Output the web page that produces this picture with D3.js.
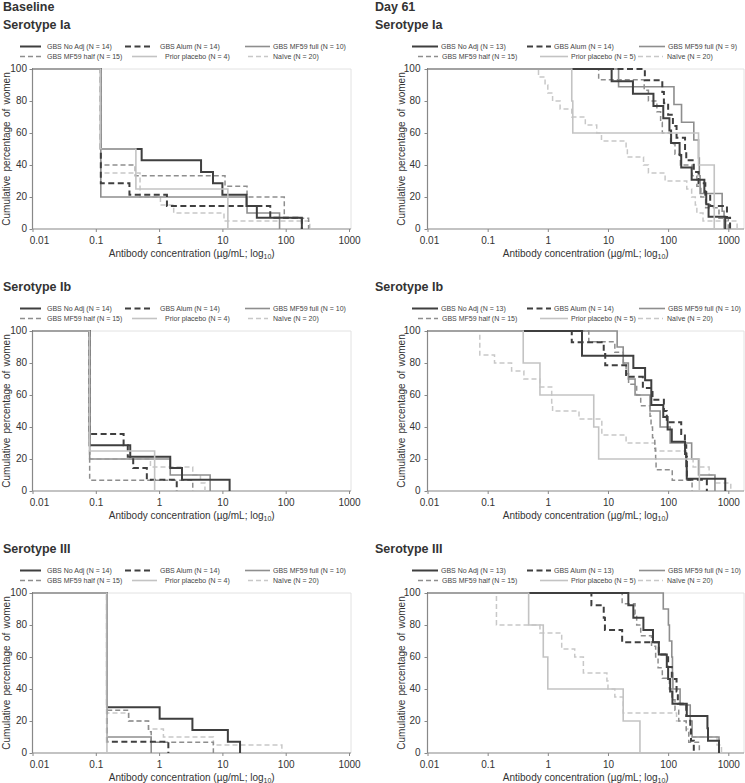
<!DOCTYPE html>
<html><head><meta charset="utf-8">
<script src="https://cdn.jsdelivr.net/npm/d3@7"></script>
<style>body{margin:0;background:#fff}svg{display:block;font-family:Arial,"Liberation Sans",sans-serif}</style>
</head><body><svg id="c" width="745" height="783"></svg>
<script>
// ---------- data ----------
const seriesNames = ["GBS No Adj", "GBS Alum", "GBS MF59 full", "GBS MF59 half", "Prior placebo", "Naïve"];
const tickValues = [0.01, 0.1, 1, 10, 100, 1000];
const tickLabels = ["0.01", "0.1", "1", "10", "100", "1000"];
const yTicks = [0, 20, 40, 60, 80, 100];
const timepoints = ["Baseline", "Day 61"];
const serotypes = ["Serotype Ia", "Serotype Ib", "Serotype III"];

const nBaseIa = [14, 14, 10, 15, 4, 20];
const nDay61Ia = [13, 14, 9, 15, 5, 20];
const nBaseIb = [14, 14, 10, 15, 4, 20];
const nDay61Ib = [13, 14, 10, 15, 5, 20];
const nBaseIII = [14, 14, 10, 15, 4, 20];
const nDay61III = [13, 13, 10, 15, 5, 20];

// concentrations (µg/mL) at which each curve steps down, and the percentage after the step
const baseIaX = [
  [0.12, 0.53, 4.6, 7.1, 10, 24, 35, 180],
  [0.12, 0.34, 1.33, 57, 180],
  [0.12, 24.5, 80],
  [0.12, 0.42, 11, 24.5, 95, 230],
  [0.12, 0.43, 12.2],
  [0.12, 0.5, 1.05, 1.7, 10.6, 240]];
const baseIaY = [
  [50, 42.9, 35.7, 28.6, 21.4, 14.3, 7.1, 0],
  [28.6, 21.4, 14.3, 7.1, 0],
  [20, 10, 0],
  [40, 33.3, 26.7, 20, 6.7, 0],
  [50, 25, 0],
  [35, 20, 15, 10, 5, 0]];

const day61IaX = [
  [11.5, 26, 57, 83, 105, 112, 155, 165, 246, 400, 430, 470, 890],
  [41, 80, 85, 100, 120, 138, 191, 200, 267, 320, 415, 500, 950, 1070],
  [15, 125, 167, 267, 320, 330, 340, 790, 850],
  [7, 40, 47, 65, 75, 80, 110, 130, 160, 250, 300, 350, 420, 700, 1000],
  [2.5, 2.6, 320, 584],
  [0.7, 0.9, 1.0, 1.2, 1.6, 2.5, 4.2, 6.5, 7.8, 20, 21, 39, 47, 89, 204, 246, 283, 300, 380, 1400]];
const day61IaY = [
  [92.3, 84.6, 76.9, 69.2, 61.5, 53.8, 46.2, 38.5, 30.8, 23.1, 15.4, 7.7, 0],
  [92.9, 85.7, 78.6, 71.4, 64.3, 57.1, 50, 42.9, 35.7, 28.6, 21.4, 14.3, 7.1, 0],
  [88.9, 77.8, 66.7, 55.6, 44.4, 33.3, 22.2, 11.1, 0],
  [93.3, 86.7, 80, 73.3, 66.7, 60, 53.3, 46.7, 40, 33.3, 26.7, 20, 13.3, 6.7, 0],
  [80, 60, 40, 0],
  [95, 90, 85, 80, 75, 70, 65, 60, 55, 50, 45, 40, 35, 30, 25, 20, 15, 10, 5, 0]];

const baseIbX = [
  [0.08, 0.35, 1.5, 2.3, 13],
  [0.08, 0.275, 0.32, 0.39, 0.64, 1.9],
  [0.08, 1.5, 6.4],
  [0.08, 3.4],
  [0.08, 0.85],
  [0.08, 0.73, 3.4, 4.5, 5.3]];
const baseIbY = [
  [28.6, 21.4, 14.3, 7.1, 0],
  [35.7, 28.6, 21.4, 14.3, 7.1, 0],
  [20, 10, 0],
  [6.7, 0],
  [25, 0],
  [20, 15, 10, 5, 0]];

const day61IbX = [
  [3.7, 26.4, 41.4, 52.5, 83, 98, 115, 191, 200, 204, 890],
  [2.5, 8.5, 9, 20, 38, 55, 85, 95, 165, 190, 200, 205, 440],
  [14.2, 17.9, 21.8, 28.2, 50, 73.6, 108, 246, 320, 600],
  [4.8, 13, 18, 20, 22, 30, 35, 50, 52, 55, 60, 62, 63, 117, 250],
  [0.39, 0.74, 5.8, 7.0, 330],
  [0.074, 0.13, 0.25, 0.4, 0.74, 1.16, 1.2, 3.3, 7.9, 20, 60, 200, 260, 480, 600, 1100]];
const day61IbY = [
  [84.6, 76.9, 69.2, 53.8, 46.2, 38.5, 30.8, 23.1, 15.4, 7.7, 0],
  [92.9, 85.7, 78.6, 71.4, 64.3, 57.1, 50, 42.9, 35.7, 28.6, 21.4, 7.1, 0],
  [90, 80, 70, 60, 50, 40, 30, 20, 10, 0],
  [93.3, 86.7, 80, 73.3, 66.7, 60, 53.3, 46.7, 40, 33.3, 26.7, 20, 13.3, 6.7, 0],
  [80, 60, 40, 20, 0],
  [85, 80, 75, 70, 65, 55, 50, 45, 35, 30, 25, 20, 15, 10, 5, 0]];

const baseIIIX = [
  [0.15, 1.02, 3.36, 12.2, 19],
  [0.15, 1.4],
  [0.15, 0.75],
  [0.15, 0.33, 0.68, 0.75, 7.2],
  [0.15],
  [0.15, 0.33, 0.68, 1.17, 7.2, 87]];
const baseIIIY = [
  [28.6, 21.4, 14.3, 7.1, 0],
  [7.1, 0],
  [10, 0],
  [26.7, 20, 13.3, 6.7, 0],
  [0],
  [25, 20, 15, 10, 5, 0]];

const day61IIIX = [
  [21.8, 26.4, 38.8, 56, 70, 95, 100, 108, 118, 204, 450, 460, 700],
  [5.3, 8.5, 8.9, 17.2, 70, 100, 115, 138, 145, 200, 233, 240, 267],
  [83, 101, 105, 115, 118, 120, 158, 233, 250, 700],
  [17.2, 28.2, 30, 35, 53, 62, 68, 80, 105, 115, 130, 150, 200, 220, 330],
  [0.48, 0.84, 1.0, 17.9, 34],
  [0.14, 0.74, 1.7, 2.8, 3.9, 9.6, 10, 13, 17.9, 138, 200, 230, 650, 770]];
const day61IIIY = [
  [92.3, 84.6, 76.9, 69.2, 61.5, 53.8, 46.2, 38.5, 30.8, 23.1, 15.4, 7.7, 0],
  [92.3, 84.6, 76.9, 69.2, 61.5, 53.8, 46.2, 38.5, 30.8, 23.1, 15.4, 7.7, 0],
  [90, 80, 70, 60, 50, 40, 30, 20, 10, 0],
  [93.3, 86.7, 80, 73.3, 66.7, 60, 53.3, 46.7, 40, 33.3, 26.7, 20, 13.3, 6.7, 0],
  [80, 60, 40, 20, 0],
  [80, 75, 65, 60, 50, 45, 40, 35, 25, 20, 15, 10, 5, 0]];

// ---------- styles / layout ----------
const styles = [
  {color: "#3f3f3f", width: 2, dash: null},
  {color: "#3f3f3f", width: 2, dash: "6,3.5"},
  {color: "#8e8e8e", width: 1.6, dash: null},
  {color: "#8e8e8e", width: 1.5, dash: "5,3"},
  {color: "#c3c3c3", width: 1.6, dash: null},
  {color: "#c8c8c8", width: 1.5, dash: "5,3"}];
const drawOrder = [5, 3, 2, 1, 0, 4];

const cols = [
  {x0: 32.5, x1000: 349, right: 351, yTitle: 6, head: 3, firstDx: 6.5, yPad: 2.5,
   leg: [[[20, 41], [125, 153], [245, 270]], [[20, 43], [132, 157], [248, 268]]],
   legT: [[47, 160, 273], [47, 165, 273]]},
  {x0: 427.5, x1000: 728.3, right: 744, yTitle: 401, head: 375, firstDx: 1.5, yPad: 4,
   leg: [[[412, 438], [527, 551], [639, 665]], [[418, 438], [540, 568], [638, 663]]],
   legT: [[441, 554, 668], [442, 571, 667]]}];
const rowStep = 262;

const panels = [
  {col: 0, row: 0, n: nBaseIa, xs: baseIaX, ys: baseIaY},
  {col: 1, row: 0, n: nDay61Ia, xs: day61IaX, ys: day61IaY},
  {col: 0, row: 1, n: nBaseIb, xs: baseIbX, ys: baseIbY},
  {col: 1, row: 1, n: nDay61Ib, xs: day61IbX, ys: day61IbY},
  {col: 0, row: 2, n: nBaseIII, xs: baseIIIX, ys: baseIIIY},
  {col: 1, row: 2, n: nDay61III, xs: day61IIIX, ys: day61IIIY}];

const svg = d3.select("#c");
const txt = "#333";

timepoints.forEach((t, i) => {
  svg.append("text").attr("x", cols[i].head).attr("y", 10.7)
    .attr("font-size", 12.5).attr("font-weight", "bold").attr("fill", txt).text(t);
});

panels.forEach(p => {
  const c = cols[p.col];
  const off = p.row * rowStep;
  const top = 69 + off, bottom = 229 + off;
  const x = d3.scaleLog().domain([0.01, 1000]).range([c.x0, c.x1000]);
  const y = d3.scaleLinear().domain([0, 100]).range([bottom, top]);
  const g = svg.append("g");

  g.append("text").attr("x", c.head).attr("y", 28.7 + off)
    .attr("font-size", 12.5).attr("font-weight", "bold").attr("fill", txt).text(serotypes[p.row]);

  // legend
  const legOrder = [[0, 1, 2], [3, 4, 5]];
  legOrder.forEach((rowIdx, r) => {
    const ly = 46.5 + r * 10 + off;
    rowIdx.forEach((si, k) => {
      const s = styles[si];
      const [a, b] = c.leg[r][k];
      g.append("line").attr("x1", a).attr("x2", b).attr("y1", ly).attr("y2", ly)
        .attr("stroke", s.color).attr("stroke-width", s.width)
        .attr("stroke-dasharray", s.dash);
      g.append("text").attr("x", c.legT[r][k]).attr("y", ly + 2.5)
        .attr("font-size", 7).attr("fill", "#444")
        .text(`${seriesNames[si]} (N = ${p.n[si]})`);
    });
  });

  // frame
  g.append("path").attr("d", `M${c.x0},${top}H${c.right}V${bottom}`)
    .attr("fill", "none").attr("stroke", "#e2e2e2").attr("stroke-width", 1);

  // axes
  const xa = g.append("g").attr("transform", `translate(0,${bottom})`)
    .call(d3.axisBottom(x).tickValues(tickValues).tickFormat((d, i) => tickLabels[i]).tickSize(3).tickPadding(5));
  xa.select(".domain").remove();
  xa.append("line").attr("x1", c.x0).attr("x2", c.right).attr("stroke", "#888").attr("stroke-width", 1.2);
  xa.selectAll(".tick line").attr("stroke", "#888");
  xa.selectAll(".tick text").attr("font-size", 10).attr("fill", txt)
    .attr("font-family", "Arial, Liberation Sans, sans-serif")
    .attr("dx", (d, i) => i === 0 ? c.firstDx : 0);

  const ya = g.append("g").attr("transform", `translate(${c.x0},0)`)
    .call(d3.axisLeft(y).tickValues(yTicks).tickSize(3).tickPadding(c.yPad));
  ya.select(".domain").remove();
  ya.append("line").attr("y1", top).attr("y2", bottom).attr("stroke", "#888").attr("stroke-width", 1.2);
  ya.selectAll(".tick line").attr("stroke", "#888");
  ya.selectAll(".tick text").attr("font-size", 10).attr("fill", txt)
    .attr("font-family", "Arial, Liberation Sans, sans-serif").attr("dy", "0.25em");

  // axis titles
  const xt = g.append("text").attr("x", (c.x0 + c.right) / 2).attr("y", 257 + off)
    .attr("text-anchor", "middle").attr("font-size", 10).attr("fill", txt);
  xt.append("tspan").text("Antibody concentration (µg/mL; log");
  xt.append("tspan").attr("font-size", 7).attr("dy", 2).text("10");
  xt.append("tspan").attr("dy", -2).text(")");

  g.append("text").attr("transform", `translate(${c.yTitle},${(top + bottom) / 2}) rotate(-90)`)
    .attr("text-anchor", "middle").attr("dominant-baseline", "central")
    .attr("font-size", 10).attr("fill", txt).attr("word-spacing", 1.5).text("Cumulative percentage of women");

  // step curves
  const line = d3.line().x(d => x(d[0])).y(d => y(d[1])).curve(d3.curveStepAfter);
  drawOrder.forEach(si => {
    const pts = [[0.01, 100]].concat(p.xs[si].map((v, i) => [v, p.ys[si][i]]));
    const s = styles[si];
    g.append("path").attr("d", line(pts)).attr("fill", "none")
      .attr("stroke", s.color).attr("stroke-width", s.width)
      .attr("stroke-dasharray", s.dash);
  });
});
</script></body></html>
